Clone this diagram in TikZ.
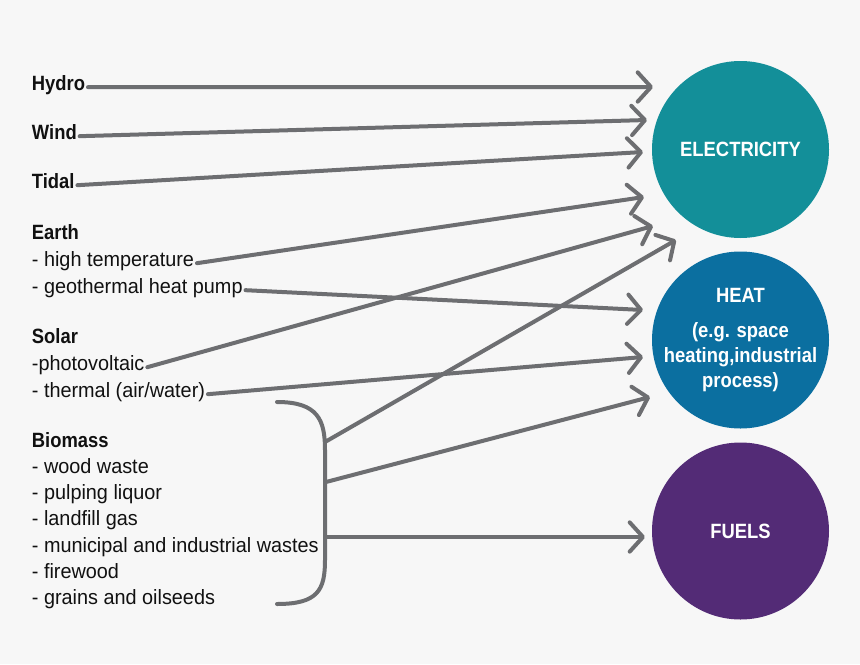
\documentclass[tikz,border=0pt]{standalone}
\usepackage{fontspec}
\setmainfont{Liberation Sans}[UprightFeatures={FakeStretch=0.96},BoldFeatures={FakeStretch=0.89}]
\usetikzlibrary{arrows.meta}

\definecolor{bggray}{HTML}{F7F7F7}
\definecolor{arrowgray}{HTML}{6D6E71}
\definecolor{inkblack}{HTML}{111111}
\definecolor{electeal}{HTML}{138F99}
\definecolor{heatblue}{HTML}{0B6FA0}
\definecolor{fuelpurple}{HTML}{532B76}

\begin{document}
\begin{tikzpicture}[x=0.75pt,y=-0.75pt,font=\fontsize{15.5pt}{18.75pt}\selectfont]

	\tikzstyle{lbl}=[anchor=base west,inner sep=2pt,text height=0.8ex,text depth=0pt,text=inkblack]
	\tikzstyle{head}=[lbl,font=\fontsize{15.5pt}{18.75pt}\selectfont\bfseries]
	\tikzstyle{hub}=[circle,minimum size=132.75pt,inner sep=-8pt,text=white,align=center,font=\fontsize{15.5pt}{18.75pt}\selectfont\bfseries]
	\tikzstyle{flow}=[draw=arrowgray,line width=3pt,line cap=round,-{Straight Barb[length=10pt,width=22pt,round]}]
	\tikzstyle{brace}=[draw=arrowgray,line width=3pt,line cap=round]

	\fill[bggray] (0,0) rectangle (860,664);

	% sources
	\node[head] (hydro) at (29,90) {Hydro};
	\node[head] (wind) at (29,139) {Wind};
	\node[head] (tidal) at (29,188) {Tidal};
	\node[head] (earth) at (29,239) {Earth};
	\node[lbl] (earthhigh) at (29,266) {- high temperature};
	\node[lbl] (earthpump) at (29,293) {- geothermal heat pump};
	\node[head] (solar) at (29,343) {Solar};
	\node[lbl] (solarpv) at (29,370) {-photovoltaic};
	\node[lbl] (solartherm) at (29,397) {- thermal (air/water)};
	\node[head] (biomass) at (29,447) {Biomass};
	\foreach \n/\y/\t in {bmwood/473/wood waste,bmpulp/499/pulping liquor,bmland/525/landfill gas,bmwaste/552/municipal and industrial wastes,bmfire/578/firewood,bmgrain/604/grains and oilseeds}
		\node[lbl] (\n) at (29,\y) {- \t};

	% uses
	\node[hub,fill=electeal] (elec) at (740.5,149.5) {ELECTRICITY};
	\node[hub,fill=heatblue] (heat) at (740.5,340) {HEAT\\[7pt](e.g. space\\heating,industrial\\process)};
	\node[hub,fill=fuelpurple] (fuel) at (740.5,531) {FUELS};

	% arrow tips
	\foreach \n/\x/\y in {tHydro/653/87,tWind/647/120,tTidal/643/152,tHigh/644/197,tPv/653/226,tBioE/676/240,tPump/643/310,tTherm/643/357,tBioH/650/397,tBioF/645/537}
		\coordinate (\n) at (\x,\y);

	% biomass bracket
	\draw[brace] (277,402) .. controls (318,402) and (325,420) .. (325,450) -- (325,560) .. controls (325,590) and (318,604) .. (277,604);
	\coordinate (bm1) at (325,442);
	\coordinate (bm2) at (326,482);
	\coordinate (bm3) at (326,537);

	\draw[flow] (hydro.east) -- (tHydro);
	\draw[flow] (wind.east) -- (tWind);
	\draw[flow] (tidal.east) -- (tTidal);
	\draw[flow] (earthhigh.east) -- (tHigh);
	\draw[flow] (earthpump.east) -- (tPump);
	\draw[flow] (solarpv.east) -- (tPv);
	\draw[flow] (solartherm.east) -- (tTherm);
	\draw[flow] (bm1) -- (tBioE);
	\draw[flow] (bm2) -- (tBioH);
	\draw[flow] (bm3) -- (tBioF);
\end{tikzpicture}
\end{document}
